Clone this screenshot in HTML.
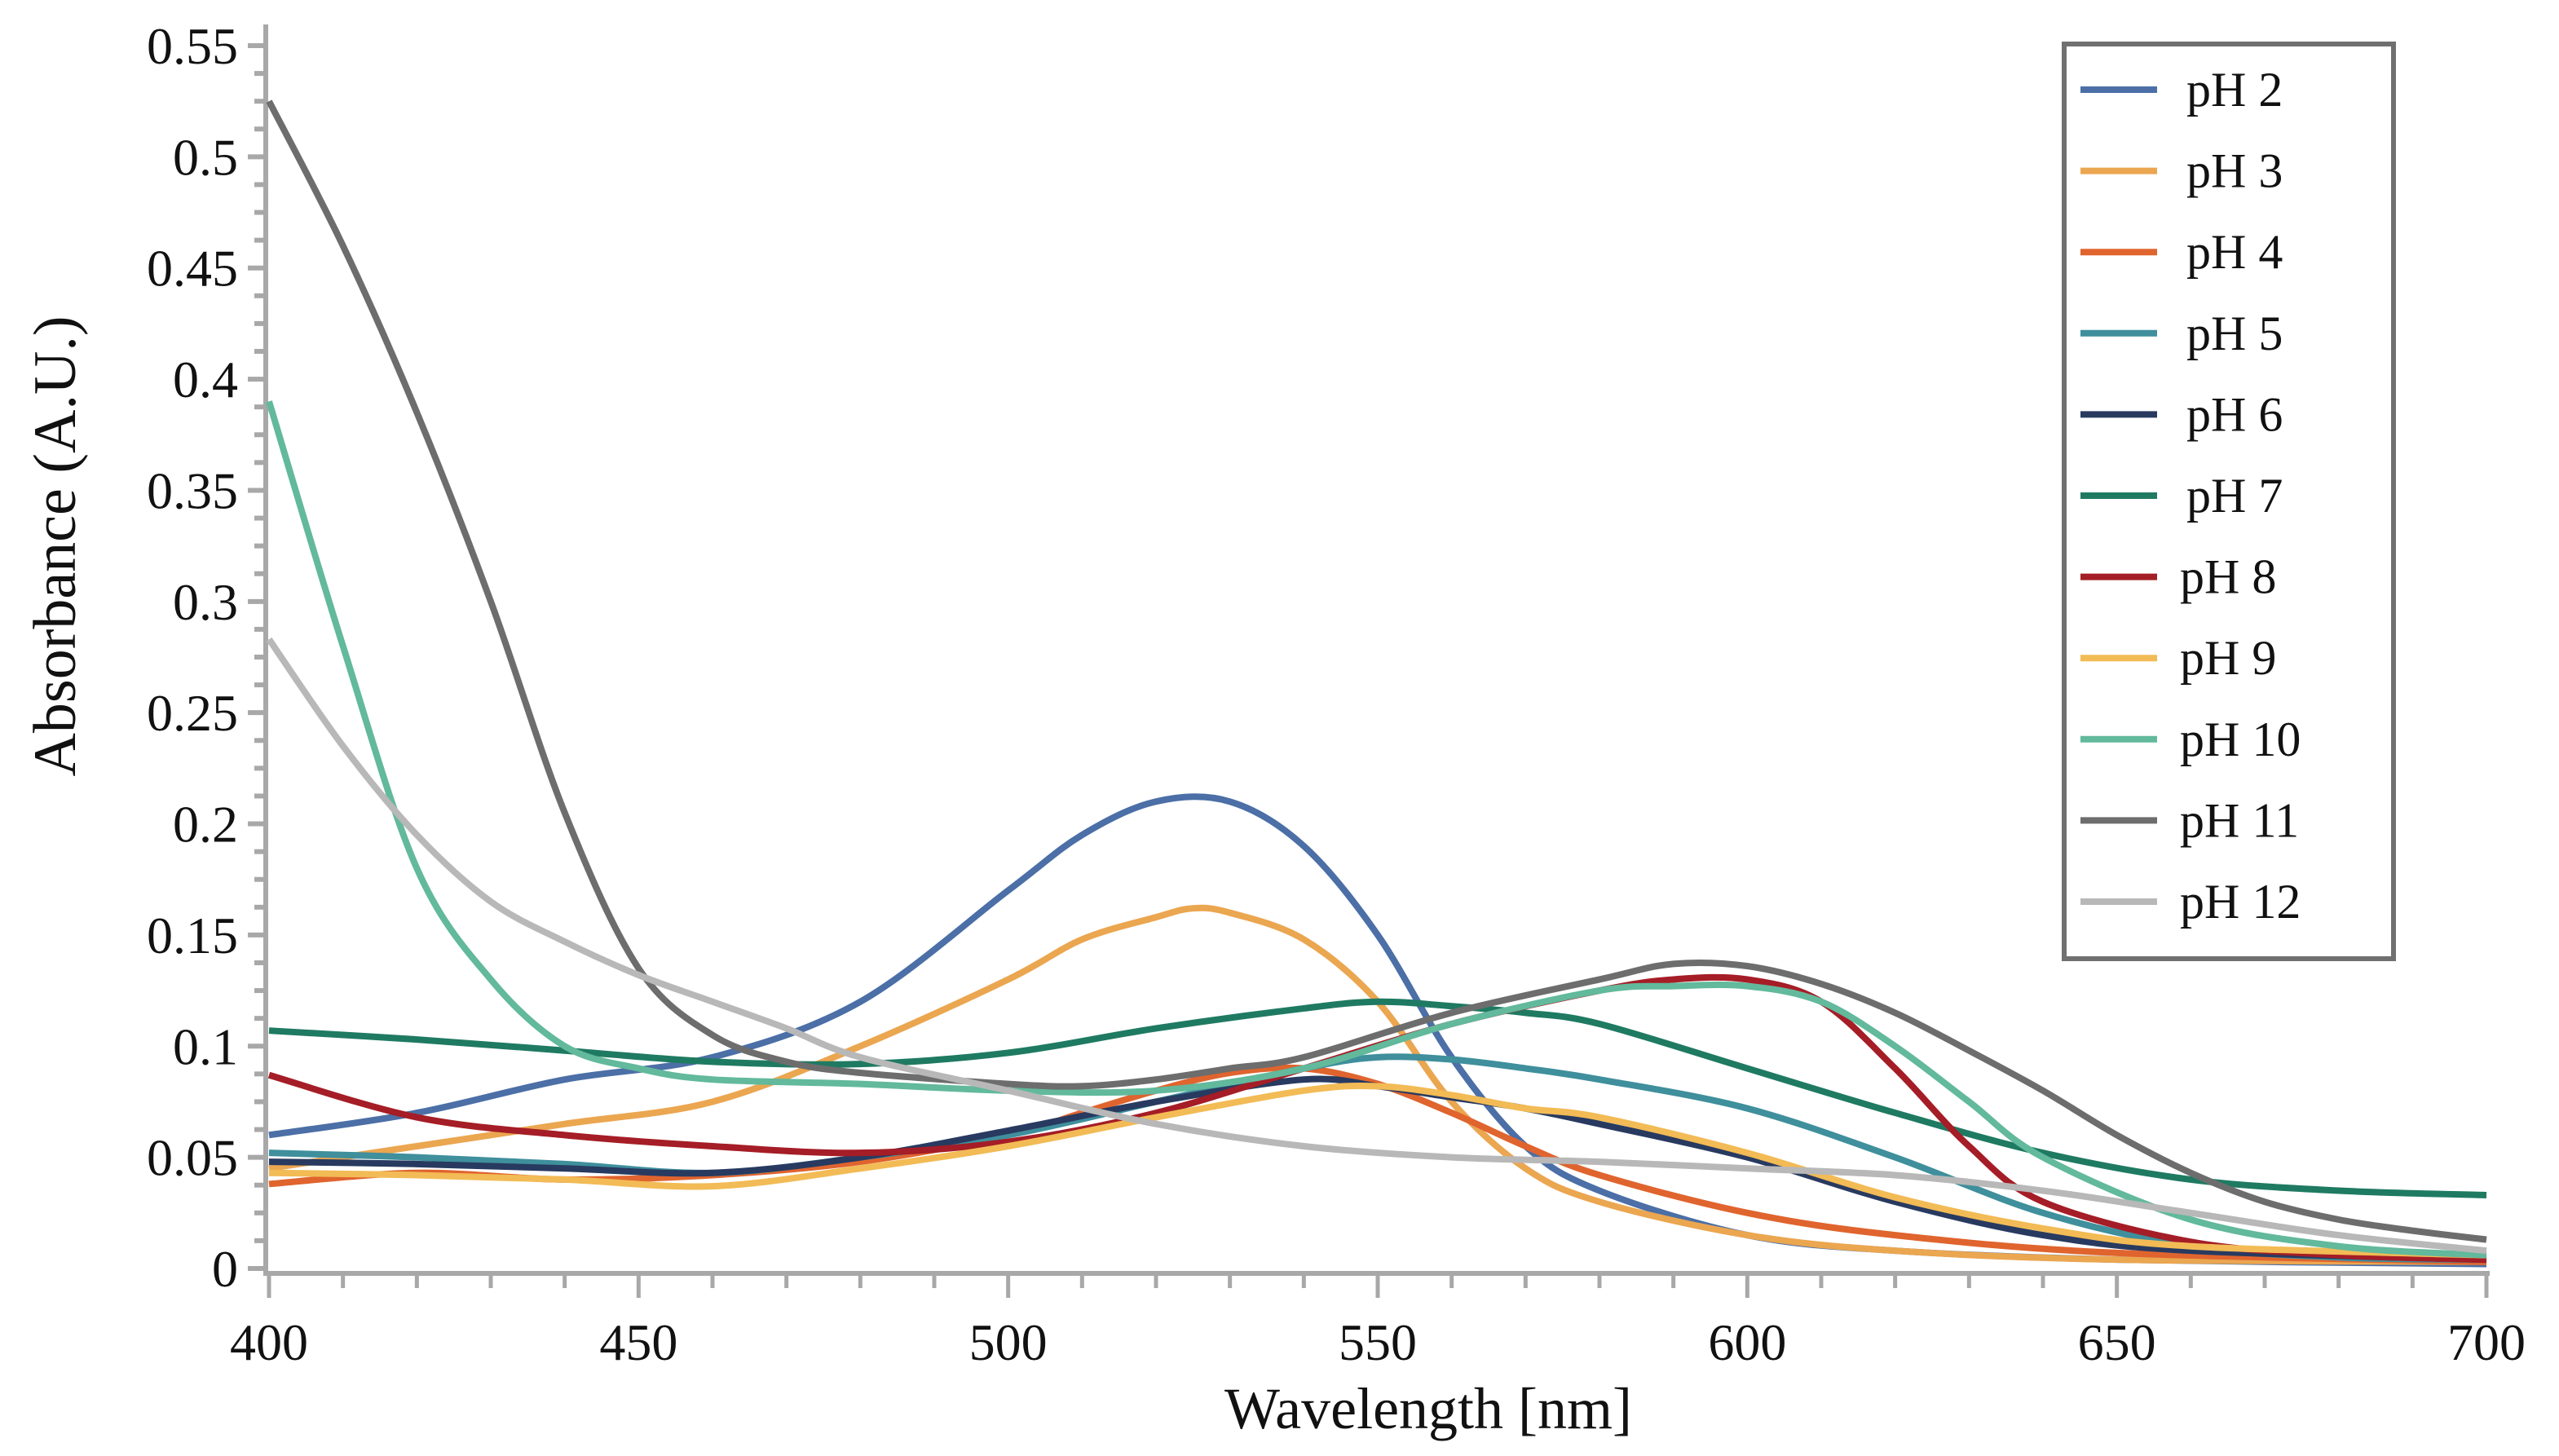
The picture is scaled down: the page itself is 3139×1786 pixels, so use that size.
<!DOCTYPE html>
<html><head><meta charset="utf-8"><style>
html,body{margin:0;padding:0;background:#fff;}
svg{display:block;}
text{font-family:"Liberation Serif",serif;fill:#111;}
</style></head><body>
<svg id="chart" width="3139" height="1786" viewBox="0 0 3139 1786" xmlns="http://www.w3.org/2000/svg">
<g id="grid"></g>
<g id="series"></g>
<g id="legend"></g>
<text x="1752" y="1752" font-size="72" text-anchor="middle">Wavelength [nm]</text>
<text transform="translate(92,670) rotate(-90)" font-size="74" text-anchor="middle">Absorbance (A.U.)</text>
</svg>
<script>
const xTicks=[400,450,500,550,600,650,700];
const yTicks=[0,0.05,0.1,0.15,0.2,0.25,0.3,0.35,0.4,0.45,0.5,0.55];
const yTickLabels=["0","0.05","0.1","0.15","0.2","0.25","0.3","0.35","0.4","0.45","0.5","0.55"];
const seriesNames=["pH 2","pH 3","pH 4","pH 5","pH 6","pH 7","pH 8","pH 9","pH 10","pH 11","pH 12"];
const x2=[400,420,440,460,480,500,510,520,530,540,550,560,570,580,600,620,650,700];
const y2=[0.06,0.07,0.085,0.095,0.12,0.17,0.195,0.21,0.21,0.19,0.15,0.095,0.055,0.035,0.015,0.008,0.004,0.002];
const x3=[400,420,440,460,480,500,510,520,525,530,540,550,560,570,580,600,620,650,700];
const y3=[0.045,0.055,0.065,0.075,0.1,0.13,0.148,0.158,0.162,0.16,0.148,0.12,0.075,0.045,0.03,0.015,0.008,0.004,0.003];
const x4=[400,420,440,460,480,500,510,520,530,540,550,560,570,580,600,620,650,700];
const y4=[0.038,0.043,0.04,0.042,0.048,0.06,0.07,0.08,0.088,0.09,0.083,0.07,0.055,0.042,0.025,0.015,0.007,0.003];
const x5=[400,420,440,460,480,500,520,540,550,560,570,580,600,620,640,660,680,700];
const y5=[0.052,0.05,0.047,0.043,0.05,0.06,0.075,0.09,0.095,0.094,0.09,0.085,0.072,0.05,0.025,0.01,0.005,0.004];
const x6=[400,420,440,460,480,500,520,540,550,560,570,580,600,620,640,660,700];
const y6=[0.048,0.047,0.045,0.043,0.05,0.062,0.075,0.085,0.082,0.077,0.072,0.065,0.05,0.03,0.015,0.008,0.004];
const x7=[400,420,440,460,480,500,520,540,550,560,570,580,600,620,640,660,680,700];
const y7=[0.107,0.103,0.098,0.093,0.092,0.097,0.108,0.117,0.12,0.118,0.115,0.11,0.09,0.07,0.052,0.04,0.035,0.033];
const x8=[400,420,440,460,480,500,520,540,560,580,590,600,610,620,630,640,660,680,700];
const y8=[0.087,0.068,0.06,0.055,0.052,0.057,0.07,0.09,0.11,0.125,0.13,0.13,0.12,0.09,0.055,0.03,0.012,0.006,0.004];
const x9=[400,420,440,460,480,500,520,540,550,560,570,580,600,620,640,660,700];
const y9=[0.043,0.042,0.04,0.037,0.045,0.055,0.068,0.08,0.082,0.078,0.072,0.068,0.052,0.032,0.018,0.01,0.006];
const x10=[400,410,420,430,440,450,460,480,500,520,540,560,580,590,600,610,620,630,640,660,680,700];
const y10=[0.39,0.28,0.18,0.13,0.1,0.09,0.085,0.083,0.08,0.08,0.09,0.11,0.125,0.127,0.127,0.12,0.1,0.075,0.05,0.022,0.01,0.006];
const x11=[400,410,420,430,440,450,460,470,480,500,510,520,530,540,560,580,590,600,610,620,630,640,650,660,670,680,690,700];
const y11=[0.525,0.46,0.385,0.3,0.205,0.135,0.105,0.093,0.088,0.083,0.082,0.085,0.09,0.095,0.115,0.13,0.137,0.136,0.128,0.115,0.098,0.08,0.06,0.043,0.03,0.022,0.017,0.013];
const x12=[400,410,420,430,440,450,460,470,480,500,520,540,560,580,600,620,640,660,680,700];
const y12=[0.283,0.235,0.195,0.165,0.147,0.132,0.12,0.108,0.095,0.08,0.065,0.055,0.05,0.048,0.045,0.042,0.035,0.025,0.015,0.008];
const seriesX=[x2,x3,x4,x5,x6,x7,x8,x9,x10,x11,x12];
const seriesY=[y2,y3,y4,y5,y6,y7,y8,y9,y10,y11,y12];
const colors=["#4b6fa6","#eba650","#e0642e","#3f8f9c","#283a60","#1f7a62","#a51d26","#f2bb55","#62b99c","#6d6d6d","#b8b8b8"];

const X0=330,X1=3050,Y0=1556,Y1=56;
const sx=v=>X0+(v-400)/(700-400)*(X1-X0);
const sy=v=>Y0-(v-0)/(0.55)*(Y0-Y1);
const NS="http://www.w3.org/2000/svg";
function mk(tag,attrs,parent){const e=document.createElementNS(NS,tag);for(const k in attrs)e.setAttribute(k,attrs[k]);parent.appendChild(e);return e;}
const grid=document.getElementById('grid');
for(let v=400;v<=700;v+=10){const t=mk('line',{x1:sx(v),x2:sx(v),y1:1562,y2:(v%50===0)?1592:1580,stroke:'#a8a8a8','stroke-width':5},grid);

}
for(let i=0;i<=44;i++){const v=i*0.0125;const t=mk('line',{x1:(i%4===0)?304:312,x2:326,y1:sy(v),y2:sy(v),stroke:'#a8a8a8','stroke-width':6},grid);

}
const ax=mk('line',{x1:326,x2:326,y1:30,y2:1562,stroke:'#a8a8a8','stroke-width':6},grid);


const axx=mk('line',{x1:323,x2:3054,y1:1562,y2:1562,stroke:'#a8a8a8','stroke-width':6},grid);


xTicks.forEach(v=>{const t=mk('text',{x:sx(v),y:1668,'font-size':64,'text-anchor':'middle'},grid);t.textContent=String(v);

});
yTicks.forEach((v,i)=>{const t=mk('text',{x:292,y:sy(v)+22,'font-size':64,'text-anchor':'end'},grid);t.textContent=yTickLabels[i];

});
const sg=document.getElementById('series');
function pathFor(xs,ys){const p=xs.map((x,i)=>[sx(x),sy(ys[i])]);let d='M'+p[0][0]+','+p[0][1];
for(let i=0;i<p.length-1;i++){const a=p[Math.max(0,i-1)],b=p[i],c=p[i+1],e=p[Math.min(p.length-1,i+2)];
const c1=[b[0]+(c[0]-a[0])/6,b[1]+(c[1]-a[1])/6],c2=[c[0]-(e[0]-b[0])/6,c[1]-(e[1]-b[1])/6];
d+=' C'+c1[0]+','+c1[1]+' '+c2[0]+','+c2[1]+' '+c[0]+','+c[1];}return d;}
seriesX.forEach((xs,i)=>{const p=mk('path',{d:pathFor(xs,seriesY[i]),fill:'none',stroke:colors[i],'stroke-width':8,'stroke-linejoin':'round'},sg);

});
const lg=document.getElementById('legend');
const box=mk('rect',{x:2532,y:54,width:404,height:1122,fill:'#fff',stroke:'#707070','stroke-width':6},lg);


seriesNames.forEach((n,i)=>{const y=110+i*99.6;
const l=mk('line',{x1:2552,x2:2646,y1:y,y2:y,stroke:colors[i],'stroke-width':8},lg);


const t=mk('text',{x:i<6?2682:2674,y:y+20,'font-size':60},lg);t.textContent=n;

});
</script>
</body></html>
